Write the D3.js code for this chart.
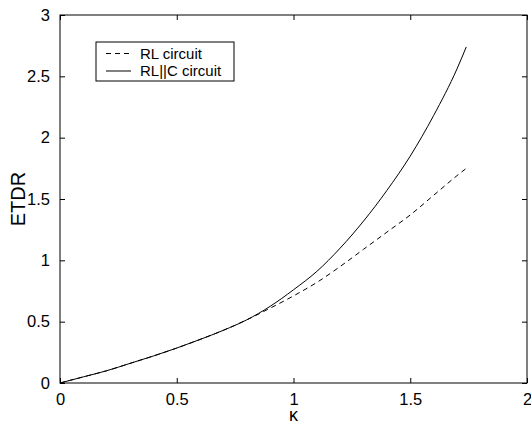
<!DOCTYPE html>
<html>
<head>
<meta charset="utf-8">
<script src="https://cdn.jsdelivr.net/npm/d3@7"></script>
<style>
  body { margin: 0; background: #fff; }
  svg text { font-family: "Liberation Sans", Arial, sans-serif; fill: #000; }
</style>
</head>
<body>
<div id="chart"></div>
<script>
// kappa samples and ETDR values
var kappa = [0, 0.1, 0.2, 0.3, 0.4, 0.5, 0.6, 0.7, 0.8, 0.9, 1.0, 1.1, 1.2, 1.3, 1.4, 1.5, 1.6, 1.7, 1.74];
var rlCircuit = [0, 0.05, 0.10, 0.16, 0.22, 0.285, 0.355, 0.43, 0.515, 0.61, 0.71, 0.82, 0.95, 1.09, 1.23, 1.37, 1.53, 1.69, 1.75];
var rlcCircuit = [0, 0.05, 0.10, 0.16, 0.22, 0.285, 0.355, 0.43, 0.515, 0.625, 0.76, 0.91, 1.10, 1.32, 1.57, 1.85, 2.18, 2.56, 2.74];
var xTicks = [0, 0.5, 1, 1.5, 2];
var yTicks = [0, 0.5, 1, 1.5, 2, 2.5, 3];
var seriesNames = ["RL circuit", "RL||C circuit"];

var width = 531, height = 425;
var margin = {left: 60, right: 4, top: 15, bottom: 42};

var svg = d3.select("#chart").append("svg")
  .attr("width", width)
  .attr("height", height);

var x = d3.scaleLinear().domain([0, 2]).range([margin.left, width - margin.right]);
var y = d3.scaleLinear().domain([0, 3]).range([height - margin.bottom, margin.top]);

// ticks point inward, mirrored on all sides
var tickLen = 5;
svg.append("g")
  .attr("transform", "translate(0," + y(0) + ")")
  .call(d3.axisBottom(x).tickValues(xTicks).tickFormat(d3.format("")).tickSizeInner(-tickLen).tickSizeOuter(0).tickPadding(10));
svg.append("g")
  .attr("transform", "translate(0," + y(3) + ")")
  .call(d3.axisTop(x).tickValues(xTicks).tickFormat("").tickSizeInner(-tickLen).tickSizeOuter(0));
svg.append("g")
  .attr("transform", "translate(" + x(0) + ",0)")
  .call(d3.axisLeft(y).tickValues(yTicks).tickFormat(d3.format("")).tickSizeInner(-tickLen).tickSizeOuter(0).tickPadding(10));
svg.append("g")
  .attr("transform", "translate(" + x(2) + ",0)")
  .call(d3.axisRight(y).tickValues(yTicks).tickFormat("").tickSizeInner(-tickLen).tickSizeOuter(0));

svg.selectAll(".domain").remove();
svg.selectAll(".tick line").attr("stroke", "#000");
svg.selectAll(".tick text").style("font-size", "16.5px").style("font-family", "'Liberation Sans', Arial, sans-serif");

// box
svg.append("rect")
  .attr("x", x(0)).attr("y", y(3))
  .attr("width", x(2) - x(0)).attr("height", y(0) - y(3))
  .attr("fill", "none").attr("stroke", "#000").attr("stroke-width", 1);

var line = d3.line()
  .x(function (d) { return x(d[0]); })
  .y(function (d) { return y(d[1]); })
  .curve(d3.curveMonotoneX);

svg.append("path")
  .datum(kappa.map(function (k, i) { return [k, rlCircuit[i]]; }))
  .attr("d", line)
  .attr("fill", "none").attr("stroke", "#000").attr("stroke-width", 1)
  .attr("stroke-dasharray", "5,4");

svg.append("path")
  .datum(kappa.map(function (k, i) { return [k, rlcCircuit[i]]; }))
  .attr("d", line)
  .attr("fill", "none").attr("stroke", "#000").attr("stroke-width", 1);

// axis labels
svg.append("text")
  .attr("x", (x(0) + x(2)) / 2).attr("y", 421)
  .attr("text-anchor", "middle")
  .style("font-size", "18px")
  .text("κ");

svg.append("text")
  .attr("transform", "translate(25," + ((y(0) + y(3)) / 2) + ") rotate(-90)")
  .attr("text-anchor", "middle")
  .style("font-size", "20px")
  .text("ETDR");

// legend
var legend = svg.append("g");
legend.append("rect")
  .attr("x", 96).attr("y", 42).attr("width", 138).attr("height", 39)
  .attr("fill", "#fff").attr("stroke", "#000").attr("stroke-width", 1);

seriesNames.forEach(function (name, i) {
  var ly = 53.5 + i * 17.5;
  legend.append("line")
    .attr("x1", 106).attr("x2", 131).attr("y1", ly).attr("y2", ly)
    .attr("stroke", "#000").attr("stroke-width", 1)
    .attr("stroke-dasharray", i === 0 ? "5,4" : null);
  legend.append("text")
    .attr("x", 140).attr("y", ly + 5)
    .style("font-size", "15px")
    .text(name);
});
</script>
</body>
</html>
